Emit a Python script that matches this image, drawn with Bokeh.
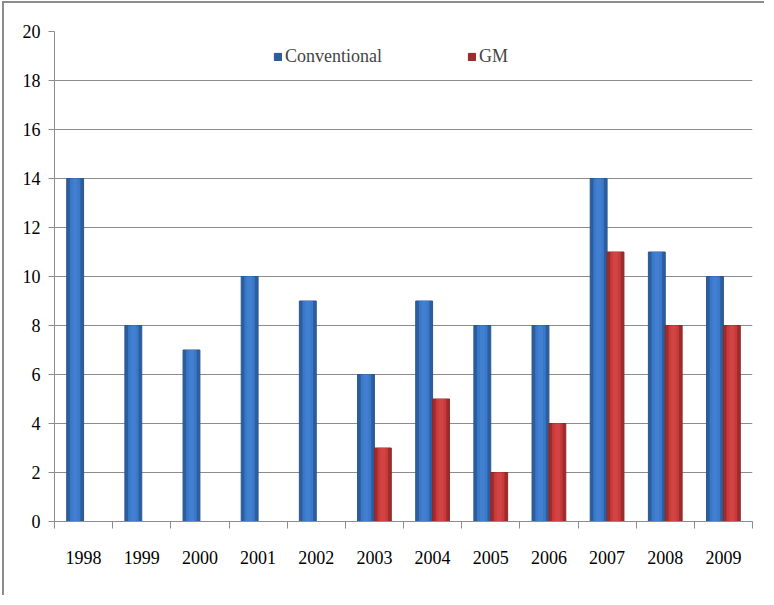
from bokeh.plotting import figure
from bokeh.models import ColumnDataSource, FixedTicker, Range1d, Legend, LegendItem
from bokeh.embed import file_html
from bokeh.resources import INLINE

years = ["1998", "1999", "2000", "2001", "2002", "2003", "2004", "2005", "2006", "2007", "2008", "2009"]
conventional = [14, 8, 7, 10, 9, 6, 9, 8, 8, 14, 11, 10]
gm = [0, 0, 0, 0, 0, 3, 5, 2, 4, 11, 8, 8]
y_ticks = list(range(0, 21, 2))

centers = [i + 0.5 for i in range(len(years))]
bw = 0.29
src = ColumnDataSource(dict(
    xc=[c - bw / 2 for c in centers],
    xg=[c + bw / 2 for c in centers],
    conv=conventional,
    gm=gm,
))

p = figure(width=762, height=594, output_backend="svg", toolbar_location=None,
           x_range=Range1d(0, len(years)), y_range=Range1d(0, 20))
p.min_border_left = 50
p.min_border_right = 14
p.min_border_top = 28
p.min_border_bottom = 76
p.outline_line_color = None
p.background_fill_color = "white"
p.border_fill_color = "white"
p.styles = {"border-left": "2px solid #8c8c8c", "border-top": "2px solid #8c8c8c",
            "margin-left": "2px", "margin-top": "1px"}

# conventional bars (layered for shading)
r1 = p.vbar(x="xc", top="conv", width=bw, source=src, fill_color="#2c5e9f", line_color="#29578f", line_width=1)
p.vbar(x="xc", top="conv", width=bw * 0.62, source=src, fill_color="#3a78c9", line_color=None)
p.vbar(x="xc", top="conv", width=bw * 0.3, source=src, fill_color="#427fd0", line_color=None)
# GM bars
r2 = p.vbar(x="xg", top="gm", width=bw, source=src, fill_color="#9e2c2c", line_color="#8f2727", line_width=1)
p.vbar(x="xg", top="gm", width=bw * 0.62, source=src, fill_color="#c93b3b", line_color=None)
p.vbar(x="xg", top="gm", width=bw * 0.3, source=src, fill_color="#d24444", line_color=None)

font = "Times New Roman"

# y axis
p.yaxis.ticker = FixedTicker(ticks=y_ticks)
p.yaxis.axis_line_color = "#8c8c8c"
p.yaxis.major_tick_line_color = "#8c8c8c"
p.yaxis.major_tick_out = 6
p.yaxis.major_tick_in = 0
p.yaxis.minor_tick_line_color = None
p.yaxis.major_label_text_font = font
p.yaxis.major_label_text_font_size = "18px"
p.yaxis.major_label_text_color = "black"
p.yaxis.major_label_standoff = 8

# x axis: labels at centers, ticks at category boundaries
p.xaxis.ticker = FixedTicker(ticks=centers, minor_ticks=list(range(len(years) + 1)))
p.xaxis.major_label_overrides = {c: y for c, y in zip(centers, years)}
p.xaxis.major_tick_line_color = None
p.xaxis.minor_tick_line_color = "#8c8c8c"
p.xaxis.minor_tick_out = 7
p.xaxis.minor_tick_in = 0
p.xaxis.axis_line_color = "#8c8c8c"
p.xaxis.major_label_text_font = font
p.xaxis.major_label_text_font_size = "18px"
p.xaxis.major_label_text_color = "black"
p.xaxis.major_label_standoff = 22

p.xgrid.grid_line_color = None
p.ygrid.ticker = FixedTicker(ticks=y_ticks)
p.ygrid.grid_line_color = "#8c8c8c"
p.ygrid.grid_line_width = 1

legend = Legend(items=[LegendItem(label="Conventional", renderers=[r1]),
                       LegendItem(label="GM", renderers=[r2])],
                orientation="horizontal", location=(219, 454))
legend.label_text_font = font
legend.label_text_font_size = "18px"
legend.glyph_width = 9
legend.glyph_height = 9
legend.label_standoff = 3
legend.spacing = 85
legend.padding = 0
legend.margin = 0
legend.border_line_color = None
legend.background_fill_alpha = 0
p.add_layout(legend, "center")

open("out.html", "w").write(file_html(p, INLINE))
